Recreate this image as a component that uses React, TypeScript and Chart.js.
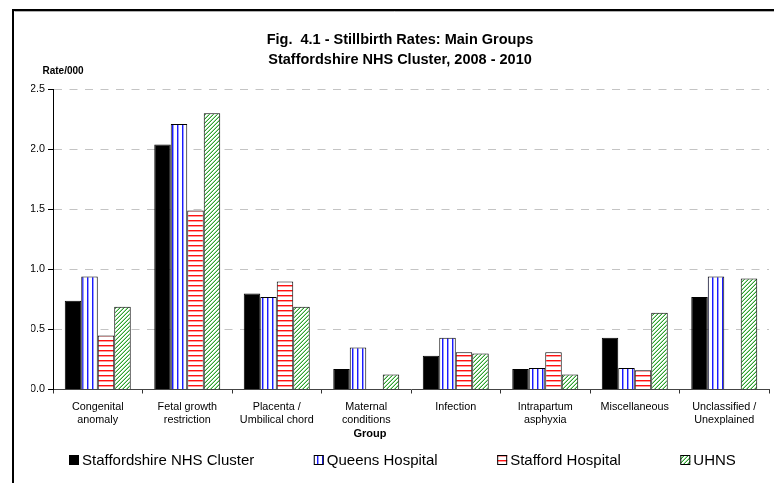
import { useEffect, useRef } from 'react';
import { Chart, registerables } from 'chart.js';

Chart.register(...registerables);

const categories: string[][] = [
  ['Congenital', 'anomaly'],
  ['Fetal growth', 'restriction'],
  ['Placenta /', 'Umbilical chord'],
  ['Maternal', 'conditions'],
  ['Infection'],
  ['Intrapartum', 'asphyxia'],
  ['Miscellaneous'],
  ['Unclassified /', 'Unexplained'],
];

const seriesNames = ['Staffordshire NHS Cluster', 'Queens Hospital', 'Stafford Hospital', 'UHNS'];

const clusterRates = [0.74, 2.04, 0.8, 0.17, 0.28, 0.17, 0.43, 0.77];
const queensRates = [0.94, 2.21, 0.77, 0.35, 0.43, 0.18, 0.18, 0.94];
const staffordRates = [0.45, 1.49, 0.9, null, 0.31, 0.31, 0.16, null];
const uhnsRates = [0.69, 2.3, 0.69, 0.125, 0.3, 0.125, 0.64, 0.925];

const titleLines = ['Fig.  4.1 - Stillbirth Rates: Main Groups', 'Staffordshire NHS Cluster, 2008 - 2010'];
const yAxisTitle = 'Rate/000';
const xAxisTitle = 'Group';
const yMin = 0;
const yMax = 2.5;
const yStep = 0.5;

const FONT = "'Liberation Sans', Arial, Helvetica, sans-serif";

function makeTile(w: number, h: number, pix: (x: number, y: number) => string) {
  const c = document.createElement('canvas');
  c.width = w;
  c.height = h;
  const g = c.getContext('2d')!;
  for (let y = 0; y < h; y++) {
    for (let x = 0; x < w; x++) {
      g.fillStyle = pix(x, y);
      g.fillRect(x, y, 1, 1);
    }
  }
  return c;
}

function makePatterns(ctx: CanvasRenderingContext2D) {
  const vert = makeTile(5, 1, (x) => (x === 2 ? '#1a1aff' : x === 3 ? '#9a9aff' : '#ffffff'));
  const horiz = makeTile(1, 5, (_x, y) => (y === 0 ? '#ff1010' : y === 1 ? '#ff9a9a' : '#ffffff'));
  const diag = makeTile(4, 4, (x, y) => {
    const k = (x + y) % 4;
    return k === 3 ? '#2ea02e' : k === 2 ? '#a8dca8' : '#ffffff';
  });
  return {
    vert: ctx.createPattern(vert, 'repeat')!,
    horiz: ctx.createPattern(horiz, 'repeat')!,
    diag: ctx.createPattern(diag, 'repeat')!,
  };
}

const framePlugin = {
  id: 'frameAndText',
  afterDraw(chart: any) {
    const ctx: CanvasRenderingContext2D = chart.ctx;
    ctx.save();
    // outer frame (left and top)
    ctx.strokeStyle = '#000';
    ctx.lineWidth = 2;
    ctx.beginPath();
    ctx.moveTo(13, chart.height);
    ctx.lineTo(13, 10);
    ctx.lineTo(chart.width, 10);
    ctx.stroke();
    ctx.strokeStyle = '#b0b0b0';
    ctx.lineWidth = 1;
    ctx.beginPath();
    ctx.moveTo(14.5, 11.5);
    ctx.lineTo(chart.width, 11.5);
    ctx.stroke();

    // axis titles
    ctx.fillStyle = '#000';
    ctx.textBaseline = 'middle';
    ctx.textAlign = 'left';
    ctx.font = `bold 10px ${FONT}`;
    ctx.fillText(yAxisTitle, 42.5, 71);
    ctx.textAlign = 'center';
    ctx.font = `bold 11px ${FONT}`;
    ctx.fillText(xAxisTitle, 370, 434);

    // legend
    const ds = chart.data.datasets;
    ctx.font = `15px ${FONT}`;
    const box = 10;
    const textGap = 3;
    const itemGap = 59.5;
    const widths = ds.map((d: any) => box + textGap + ctx.measureText(d.label).width);
    const total = widths.reduce((a: number, b: number) => a + b, 0) + itemGap * (ds.length - 1);
    let x = Math.round(402.5 - total / 2);
    const cy = 460;
    ds.forEach((d: any, i: number) => {
      ctx.fillStyle = d.backgroundColor;
      ctx.fillRect(x, cy - 5, box, box);
      ctx.strokeStyle = '#000';
      ctx.lineWidth = 1;
      ctx.strokeRect(x + 0.5, cy - 4.5, box - 1, box - 1);
      ctx.fillStyle = '#000';
      ctx.textAlign = 'left';
      ctx.textBaseline = 'middle';
      ctx.fillText(d.label, x + box + textGap, cy + 0.5);
      x += widths[i] + itemGap;
    });
    ctx.restore();
  },
};

export default function App() {
  const ref = useRef<HTMLCanvasElement | null>(null);

  useEffect(() => {
    const canvas = ref.current!;
    const ctx = canvas.getContext('2d')!;
    const p = makePatterns(ctx);
    const fills = ['#000000', p.vert, p.horiz, p.diag];
    const values = [clusterRates, queensRates, staffordRates, uhnsRates];

    const chart = new Chart(canvas, {
      type: 'bar',
      data: {
        labels: categories,
        datasets: seriesNames.map((name, i) => ({
          label: name,
          data: values[i],
          backgroundColor: fills[i],
          borderColor: '#000',
          borderWidth: 1,
          borderSkipped: 'bottom',
          categoryPercentage: 0.737,
          barPercentage: 1.0,
        })),
      },
      options: {
        responsive: false,
        animation: false,
        devicePixelRatio: 1,
        layout: { padding: { left: 31, right: 5, top: 0, bottom: 47.5 } },
        plugins: {
          legend: { display: false },
          tooltip: { enabled: false },
          title: {
            display: true,
            text: titleLines,
            color: '#000',
            font: { family: FONT, size: 14.5, weight: 'bold', lineHeight: 1.345 },
            padding: { top: 30.25, bottom: 20 },
          },
        },
        scales: {
          x: {
            offset: true,
            afterFit: (s: any) => {
              s.height = 46;
            },
            grid: {
              display: true,
              drawOnChartArea: false,
              drawTicks: true,
              tickLength: 4,
              offset: true,
              color: '#000',
              tickColor: '#333',
            },
            border: { display: true, color: '#444', width: 1 },
            ticks: {
              color: '#000',
              font: { family: FONT, size: 10.8, lineHeight: 1.25 },
              maxRotation: 0,
              minRotation: 0,
              autoSkip: false,
              padding: 6.5,
            },
          },
          y: {
            min: yMin,
            max: yMax,
            afterFit: (s: any) => {
              s.width = 22;
            },
            grid: {
              color: (c: any) => (c.tick && c.tick.value === 0 ? 'rgba(0,0,0,0)' : '#c4c4c4'),
              lineWidth: 1,
              tickColor: '#000',
              tickLength: 5,
              tickBorderDash: [],
            },
            border: { display: true, color: '#000', width: 1, dash: [8, 7.5] },
            ticks: {
              stepSize: yStep,
              color: '#000',
              padding: 3,
              font: { family: FONT, size: 10.8 },
              callback: (v: any) => Number(v).toFixed(1),
            },
          },
        },
      },
      plugins: [framePlugin],
    } as any);

    return () => chart.destroy();
  }, []);

  return (
    <div style={{ position: 'absolute', left: 0, top: 0, width: 774, height: 483, background: '#fff' }}>
      <canvas ref={ref} width={774} height={483} style={{ width: 774, height: 483, display: 'block' }} />
    </div>
  );
}
